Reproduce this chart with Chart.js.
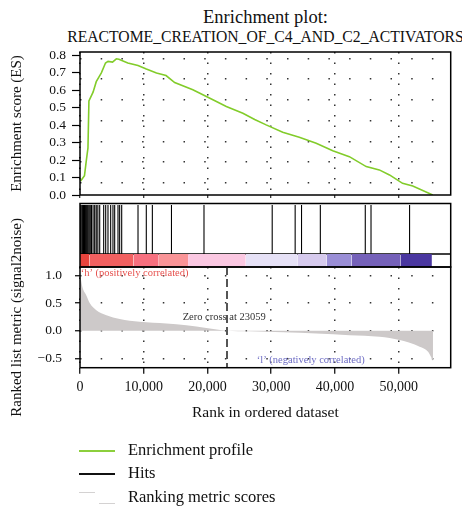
<!DOCTYPE html>
<html>
<head>
<meta charset="utf-8">
<script src="https://cdn.jsdelivr.net/npm/chart.js@4.4.1/dist/chart.umd.min.js"></script>
<style>
  html, body { margin: 0; padding: 0; background: #fff; }
  body { width: 462px; height: 512px; position: relative; overflow: hidden; font-family: "Liberation Serif", "DejaVu Serif", serif; color: #111; }
  canvas { position: absolute; left: 0; top: 0; }
  .t { position: absolute; white-space: nowrap; line-height: 1; }
  .ttl { left: 265.5px; transform: translateX(-50%); }
  .lg { position: absolute; }
</style>
</head>
<body>
<div class="t ttl" style="top:8px; font-size:18.5px;">Enrichment plot:</div>
<div class="t ttl" style="top:29.2px; font-size:15.7px;">REACTOME_CREATION_OF_C4_AND_C2_ACTIVATORS</div>

<canvas id="esChart" width="462" height="512"></canvas>
<canvas id="hitChart" width="462" height="512"></canvas>
<canvas id="rankChart" width="462" height="512"></canvas>

<div class="lg" style="left:79px; top:449.7px; width:36px; height:2px; background:#8ccf3c;"></div>
<div class="lg" style="left:79px; top:473.3px; width:36px; height:1.5px; background:#111;"></div>
<div class="lg" style="left:79px; top:491.6px; width:16px; height:1.5px; background:#d4d2d2;"></div>
<div class="lg" style="left:99px; top:502.6px; width:16px; height:1.5px; background:#d4d2d2;"></div>
<div class="t" style="left:128px; top:441.9px; font-size:16.5px;">Enrichment profile</div>
<div class="t" style="left:128px; top:465.2px; font-size:16.5px;">Hits</div>
<div class="t" style="left:128px; top:488.9px; font-size:16.5px;">Ranking metric scores</div>

<script>
// running enrichment score
const esRanks = [100, 700, 1000, 1250, 1400, 2050, 2550, 3350, 4000, 4400, 5100, 5700, 6100, 7500, 9100,
  10400, 12000, 13500, 14850, 17700, 20850, 22950, 25550, 27400, 29200, 31800, 34400, 37050, 39650,
  42250, 44900, 46950, 48550, 50600, 52200, 55330];
const esScores = [0.08, 0.11, 0.20, 0.27, 0.54, 0.59, 0.65, 0.70, 0.757, 0.766, 0.762, 0.781, 0.778, 0.757, 0.743,
  0.722, 0.699, 0.685, 0.645, 0.603, 0.546, 0.507, 0.469, 0.433, 0.402, 0.36, 0.331, 0.297, 0.254,
  0.22, 0.163, 0.144, 0.115, 0.067, 0.052, 0.0];
const esTicks = [0, 0.1, 0.2, 0.3, 0.4, 0.5, 0.6, 0.7, 0.8];
const esGridLines = [0.069, 0.188, 0.307, 0.426, 0.545, 0.664, 0.783];

// gene set hits
const hitRanks = [100, 300, 480, 650, 820, 1000, 1200, 1400, 1600, 1800, 2050, 2300, 2550, 2800,
  3090, 3715, 4030, 4390, 4810, 5170, 5440, 5960, 6220, 6540,
  9100, 10400, 11350, 14350, 19450, 30150, 33750, 34750, 37700, 44750, 45650, 51700];

// heat bar under the hits
const barEdges = [0, 1500, 8400, 12350, 16950, 26000, 34100, 38700, 42600, 50300, 55200];
const barColors = ['#e8443d', '#f26060', '#f7707f', '#f99497', '#fbc8e2', '#e6e1f6', '#d6caed', '#9a8ed6', '#7561b9', '#4a37a0'];

// ranked list metric
const metricRanks = [0, 150, 420, 940, 1520, 2560, 4140, 6230, 9360, 13550, 16690, 19820, 23059,
  26600, 31850, 37080, 42300, 47000, 50150, 53280, 54600, 55170, 55370];
const metricValues = [1.05, 0.93, 0.77, 0.65, 0.50, 0.37, 0.28, 0.21, 0.16, 0.13, 0.10, 0.05, 0.0,
  -0.01, -0.03, -0.05, -0.08, -0.11, -0.17, -0.29, -0.38, -0.5, -0.55];
const zeroCross = 23059;
const rankTicks = [0, 10000, 20000, 30000, 40000, 50000];
const metricTicks = [-0.5, 0, 0.5, 1];

const xMax = 58150;
const serif = '"Liberation Serif", "DejaVu Serif", serif';
const ink = '#111';
Chart.defaults.font.family = serif;
Chart.defaults.color = ink;
const f = size => ({ family: serif, size: size });

const frame = {
  id: 'frame',
  afterDatasetsDraw(chart) {
    const a = chart.chartArea, ctx = chart.ctx;
    ctx.save();
    ctx.strokeStyle = '#000';
    ctx.lineWidth = 1.5;
    ctx.strokeRect(a.left, a.top, a.right - a.left, a.bottom - a.top);
    ctx.restore();
  }
};

const pts = (xs, ys) => xs.map((x, i) => ({x: x, y: ys[i]}));
const base = {
  responsive: false,
  animation: false,
  events: [],
  plugins: { legend: { display: false }, tooltip: { enabled: false } }
};

// --- top: enrichment profile
new Chart(document.getElementById('esChart'), {
  type: 'line',
  data: {
    datasets: [{
      data: pts(esRanks, esScores),
      borderColor: '#82cc2a',
      borderWidth: 1.6,
      pointRadius: 0,
      tension: 0
    }]
  },
  options: Object.assign({}, base, {
    layout: { padding: { left: 0, right: 11.3, top: 52, bottom: 317 } },
    scales: {
      x: {
        type: 'linear', min: 0, max: xMax,
        afterBuildTicks: s => { s.ticks = rankTicks.map(v => ({value: v})); },
        ticks: { display: false },
        grid: { color: '#333', lineWidth: 1.5, tickLength: 3, tickColor: '#000', tickWidth: 1 },
        border: { display: false, dash: [1.5, 9] },
        afterFit: s => { s.height = 0; }
      },
      y: {
        min: 0, max: 0.82,
        afterBuildTicks: s => { s.ticks = esTicks.map(v => ({value: v})); },
        ticks: { callback: v => v.toFixed(1), font: f(13.5), color: ink, padding: 6, autoSkip: false },
        grid: { drawOnChartArea: false, tickLength: 8, tickColor: '#000', tickWidth: 1.2 },
        border: { display: false },
        title: { display: true, text: 'Enrichment score (ES)', font: f(15), color: ink, padding: { top: 8.5, bottom: 0 } },
        afterFit: s => { s.width = 80; }
      },
      yg: {
        position: 'right', min: 0, max: 0.82,
        afterBuildTicks: s => { s.ticks = esGridLines.map(v => ({value: v})); },
        ticks: { display: false },
        grid: { color: '#333', lineWidth: 1.5, drawTicks: false },
        border: { display: false, dash: [1.5, 19.2] },
        afterFit: s => { s.width = 0; }
      }
    }
  }),
  plugins: [frame]
});

// --- middle: hits and heat bar
const hitData = [];
hitRanks.forEach(r => { hitData.push({x: r, y: 0.205}, {x: r, y: 0.975}, {x: r, y: null}); });
const barSets = barColors.map((c, i) => ({
  data: [{x: barEdges[i], y: 0.205}, {x: barEdges[i + 1], y: 0.205}],
  borderWidth: 0,
  backgroundColor: c,
  fill: 'origin',
  pointRadius: 0
}));
new Chart(document.getElementById('hitChart'), {
  type: 'line',
  data: {
    datasets: barSets.concat([
      { data: [{x: 0, y: 0.205}, {x: xMax, y: 0.205}], borderColor: '#000', borderWidth: 1.3, pointRadius: 0 },
      { data: hitData, borderColor: '#000', borderWidth: 1.1, pointRadius: 0, spanGaps: false }
    ])
  },
  options: Object.assign({}, base, {
    layout: { padding: { left: 80, right: 11.3, top: 203.5, bottom: 245 } },
    scales: {
      x: { type: 'linear', min: 0, max: xMax, display: false },
      y: { min: 0, max: 1, display: false }
    }
  }),
  plugins: [frame]
});

// --- bottom: ranked list metric
const notes = [
  { text: '\u2018h\u2019 (positively correlated)', x: 100, y: 1.03, color: '#e6504d', align: 'left' },
  { text: 'Zero cross at ' + zeroCross, x: 22620, y: 0.235, color: '#333', align: 'center' },
  { text: '\u2018l\u2019 (negatively correlated)', x: 36190, y: -0.53, color: '#6d6cc4', align: 'center' }
];
const notePlugin = {
  id: 'notes',
  afterDatasetsDraw(chart) {
    const ctx = chart.ctx, sx = chart.scales.x, sy = chart.scales.y;
    ctx.save();
    ctx.font = '10.5px ' + serif;
    ctx.textBaseline = 'middle';
    notes.forEach(n => {
      ctx.fillStyle = n.color;
      ctx.textAlign = n.align;
      ctx.fillText(n.text, sx.getPixelForValue(n.x), sy.getPixelForValue(n.y));
    });
    ctx.restore();
  }
};
const yMin = -0.669, yMax = 1.152;
new Chart(document.getElementById('rankChart'), {
  type: 'line',
  data: {
    datasets: [
      {
        data: pts(metricRanks, metricValues),
        borderWidth: 0,
        backgroundColor: '#cdc9c9',
        fill: 'origin',
        pointRadius: 0,
        cubicInterpolationMode: 'monotone'
      },
      {
        data: [{x: zeroCross, y: yMax}, {x: zeroCross, y: yMin}],
        borderColor: '#555',
        borderWidth: 2,
        borderDash: [8, 4],
        pointRadius: 0
      }
    ]
  },
  options: Object.assign({}, base, {
    layout: { padding: { left: 0, right: 11.3, top: 267, bottom: 84.3 } },
    scales: {
      x: {
        type: 'linear', min: 0, max: xMax,
        afterBuildTicks: s => { s.ticks = rankTicks.map(v => ({value: v})); },
        ticks: { font: f(14), color: ink, padding: 5, maxRotation: 0, autoSkip: false },
        grid: { color: '#333', lineWidth: 1.5, tickLength: 6, tickColor: '#000', tickWidth: 1.2 },
        border: { display: false, dash: [1.5, 9] },
        title: { display: true, text: 'Rank in ordered dataset', font: f(15.5), color: ink, padding: { top: 0, bottom: 5.7 } },
        afterFit: s => { s.height = 60; }
      },
      y: {
        min: yMin, max: yMax,
        afterBuildTicks: s => { s.ticks = metricTicks.map(v => ({value: v})); },
        ticks: { callback: v => (v < 0 ? '\u2212' : '') + Math.abs(v).toFixed(1), font: f(13.5), color: ink, padding: 13, autoSkip: false },
        grid: { color: '#333', lineWidth: 1.5, tickLength: 5, tickColor: '#000', tickWidth: 1.2 },
        border: { display: false, dash: [1.5, 19.2] },
        title: { display: true, text: 'Ranked list metric (signal2noise)', font: f(15), color: ink, padding: { top: 8.5, bottom: 0 } },
        afterFit: s => { s.width = 80; }
      }
    }
  }),
  plugins: [frame, notePlugin]
});
</script>
</body>
</html>
